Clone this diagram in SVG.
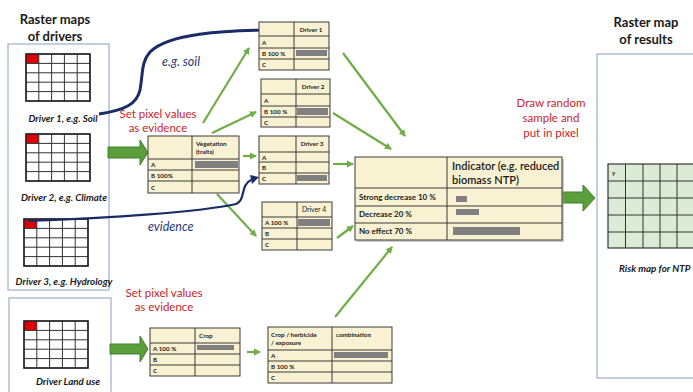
<svg xmlns="http://www.w3.org/2000/svg" width="693" height="392" viewBox="0 0 693 392">
<style>
.panel{fill:#fff;stroke:#9bb0cc;stroke-width:1.2}
.tb{fill:#f8f2d2;stroke:#3a3a3a;stroke-width:1}
.ln{stroke:#3a3a3a;stroke-width:1}
.bar{fill:#808080}
.rcell{fill:#e00000}
.gl{stroke:#333;stroke-width:1}
.t{font-family:Lato,"Liberation Sans",sans-serif;fill:#1a1a1a}
.tt{font-size:6.3px;font-weight:bold}
.title{font-size:13px;font-weight:bold;text-anchor:middle}
.dl{font-size:9.8px;font-weight:bold;font-style:italic;text-anchor:middle}
.red{font-family:Lato,"Liberation Sans",sans-serif;fill:#c8242c;font-size:11.5px;text-anchor:middle}
.blue{font-family:Lato,"Liberation Sans",sans-serif;fill:#1f3a78;font-size:12.5px;font-style:italic}
.gr{stroke:#70ad47;stroke-width:2.2;fill:none}
.nv{stroke:#1a2c66;stroke-width:3;fill:none}
.big{fill:#5b9e3c;stroke:#44802a;stroke-width:1}
</style>
<defs>
<marker id="ga" markerWidth="8" markerHeight="8" refX="6" refY="4" orient="auto" markerUnits="userSpaceOnUse">
<path d="M0,0.5 L7,4 L0,7.5 Z" fill="#70ad47"/>
</marker>
<g id="dgrid">
<rect x="0" y="0" width="64" height="47" fill="#fff" stroke="#333" stroke-width="1.2"/>
<rect x="0" y="0" width="12.8" height="9.4" class="rcell"/>
<path class="gl" d="M12.8 0V47M25.6 0V47M38.4 0V47M51.2 0V47M0 9.4H64M0 18.8H64M0 28.2H64M0 37.6H64"/>
<rect x="0" y="0" width="64" height="47" fill="none" stroke="#222" stroke-width="1.4"/>
</g>
</defs>

<rect width="693" height="392" fill="#fff"/>

<g id="left-panel">
<text class="t title" x="55" y="24">Raster maps</text>
<text class="t title" x="55" y="41">of drivers</text>
<rect class="panel" x="8" y="44" width="101" height="246"/>
<rect class="panel" x="9" y="298" width="102" height="100"/>
</g>

<g id="driver1">
<use href="#dgrid" x="26" y="54"/>
<text class="t dl" x="63" y="122">Driver 1, e.g. Soil</text>
</g>
<g id="driver2">
<use href="#dgrid" x="26" y="134"/>
<text class="t dl" x="64" y="201">Driver 2, e.g. Climate</text>
</g>
<g id="driver3">
<use href="#dgrid" x="24" y="219"/>
<text class="t dl" x="64" y="285">Driver 3, e.g. Hydrology</text>
</g>
<g id="driver-landuse">
<use href="#dgrid" x="24" y="321"/>
<text class="t dl" x="68" y="385">Driver Land use</text>
</g>

<g id="labels">
<text class="red" x="158" y="118">Set pixel values</text>
<text class="red" x="158" y="132">as evidence</text>
<text class="red" x="164" y="297">Set pixel values</text>
<text class="red" x="164" y="311">as evidence</text>
<text class="red" x="551" y="107">Draw random</text>
<text class="red" x="551" y="122">sample and</text>
<text class="red" x="551" y="137">put in pixel</text>
<text class="blue" x="162" y="66">e.g. soil</text>
<text class="blue" x="148" y="231">evidence</text>
</g>

<g id="connectors">
<polygon class="big" points="108,147 140,147 140,140 148,152.5 140,165 140,158 108,158"/>
<polygon class="big" points="110,344 140,344 140,336 148,349 140,362 140,354 110,354"/>
<polygon class="big" points="563,192 583,192 583,185 595,198 583,211 583,203 563,203"/>
<line class="gr" x1="203" y1="123" x2="249" y2="48" marker-end="url(#ga)"/>
<line class="gr" x1="212" y1="133" x2="256" y2="112" marker-end="url(#ga)"/>
<line class="gr" x1="243" y1="156" x2="256" y2="156" marker-end="url(#ga)"/>
<line class="gr" x1="217" y1="194" x2="256" y2="236" marker-end="url(#ga)"/>
<line class="gr" x1="343" y1="53" x2="405" y2="136" marker-end="url(#ga)"/>
<line class="gr" x1="333" y1="113" x2="391" y2="149" marker-end="url(#ga)"/>
<line class="gr" x1="333" y1="164" x2="353" y2="164" marker-end="url(#ga)"/>
<line class="gr" x1="337" y1="238" x2="353" y2="226" marker-end="url(#ga)"/>
<line class="gr" x1="335" y1="317" x2="392" y2="247" marker-end="url(#ga)"/>
<line class="gr" x1="247" y1="352" x2="260" y2="352" marker-end="url(#ga)"/>
<path class="nv" d="M99 114 C125 110 137 104 140 90 C143 74 141 62 150 52 C168 34 220 30 282 30"/>
<polygon points="280,24 294,30 280,36" fill="#1a2c66"/>
<path class="nv" style="stroke-width:2.2" d="M28 221 C110 218 200 212 236 204 C246 200 240 185 251 180"/>
<polygon points="250,175 259,177 252,184" fill="#1a2c66"/>
</g>

<g id="table-vegetation">
<rect class="tb" x="148" y="136" width="91" height="57"/>
<path class="ln" d="M192 136V193M148 159H239M148 170H239M148 181H239"/>
<rect class="bar" x="195" y="161" width="43" height="7"/>
<text class="t tt" x="196" y="146">Vegetation</text>
<text class="t tt" x="196" y="154">(traits)</text>
<text class="t tt" x="151" y="167">A</text>
<text class="t tt" x="151" y="178">B 100%</text>
<text class="t tt" x="151" y="190">C</text>
</g>

<g id="table-driver1">
<rect class="tb" x="259" y="22" width="70" height="48"/>
<path class="ln" d="M294 22V70M259 36H329M259 48H329M259 59H329"/>
<rect class="bar" x="296" y="50" width="31" height="6"/>
<text class="t tt" x="311" y="32" text-anchor="middle">Driver 1</text>
<text class="t tt" x="262" y="45">A</text>
<text class="t tt" x="262" y="56">B 100 %</text>
<text class="t tt" x="262" y="67">C</text>
</g>

<g id="table-driver2">
<rect class="tb" x="261" y="79" width="69" height="48"/>
<path class="ln" d="M296 79V127M261 94H330M261 106H330M261 117H330"/>
<rect class="bar" x="297" y="108" width="31" height="7"/>
<text class="t tt" x="313" y="89" text-anchor="middle">Driver 2</text>
<text class="t tt" x="264" y="103">A</text>
<text class="t tt" x="264" y="114">B 100 %</text>
<text class="t tt" x="264" y="125">C</text>
</g>

<g id="table-driver3">
<rect class="tb" x="259" y="136" width="70" height="48"/>
<path class="ln" d="M296 136V184M259 152H329M259 162H329M259 173H329"/>
<rect class="bar" x="297" y="175" width="30" height="6"/>
<text class="t tt" x="312" y="146" text-anchor="middle">Driver 3</text>
<text class="t tt" x="262" y="160">A</text>
<text class="t tt" x="262" y="170">B</text>
<text class="t tt" x="262" y="181">C</text>
</g>

<g id="table-driver4">
<rect class="tb" x="262" y="202" width="70" height="48"/>
<path class="ln" d="M297 202V250M262 217H332M262 228H332M262 239H332"/>
<rect class="bar" x="298" y="219" width="32" height="7"/>
<text class="t" style="font-size:6.8px" x="314" y="212" text-anchor="middle">Driver 4</text>
<text class="t tt" x="265" y="225">A 100 %</text>
<text class="t tt" x="265" y="236">B</text>
<text class="t tt" x="265" y="247">C</text>
</g>

<g id="table-crop">
<rect class="tb" x="150" y="328" width="90" height="48"/>
<path class="ln" d="M195 328V376M150 343H240M150 354H240M150 365H240"/>
<rect class="bar" x="197" y="345" width="37" height="5"/>
<text class="t tt" x="199" y="338">Crop</text>
<text class="t tt" x="153" y="351">A 100 %</text>
<text class="t tt" x="153" y="362">B</text>
<text class="t tt" x="153" y="373">C</text>
</g>

<g id="table-combination">
<rect class="tb" x="268" y="327" width="124" height="56"/>
<path class="ln" d="M332 327V383M268 350H392M268 361H392M268 372H392"/>
<rect class="bar" x="334" y="352" width="54" height="6"/>
<text class="t tt" x="271" y="337">Crop / herbicide</text>
<text class="t tt" x="271" y="345">/ exposure</text>
<text class="t tt" x="336" y="337">combination</text>
<text class="t tt" x="271" y="358">A</text>
<text class="t tt" x="271" y="369">B 100 %</text>
<text class="t tt" x="271" y="380">C</text>
</g>

<g id="table-indicator">
<rect x="357" y="159" width="207" height="83" fill="#999" opacity="0.5"/>
<rect class="tb" x="355" y="157" width="207" height="83"/>
<path class="ln" d="M447 157V240M355 188H562M355 206H562M355 223H562"/>
<rect class="bar" x="456" y="196" width="11" height="6"/>
<rect class="bar" x="456" y="209" width="23" height="6"/>
<rect class="bar" x="453" y="227" width="67" height="8"/>
<text class="t" style="font-size:11px;font-weight:600" x="452" y="170">Indicator (e.g. reduced</text>
<text class="t" style="font-size:11px;font-weight:600" x="452" y="184">biomass NTP)</text>
<text class="t" style="font-size:8px;font-weight:bold" x="359" y="200">Strong decrease 10 %</text>
<text class="t" style="font-size:8px;font-weight:bold" x="359" y="217">Decrease 20 %</text>
<text class="t" style="font-size:8px;font-weight:bold" x="359" y="234">No effect 70 %</text>
</g>

<g id="right-panel">
<text class="t title" x="646" y="27">Raster map</text>
<text class="t title" x="646" y="44">of results</text>
<rect class="panel" x="597" y="54" width="110" height="324"/>
<rect x="608" y="164" width="100" height="84" fill="#dcebd6" stroke="#333" stroke-width="1.2"/>
<path class="gl" d="M625.5 164V248M643 164V248M660 164V248M677 164V248M694 164V248M608 181H708M608 198H708M608 215H708M608 232H708"/>
<text class="t tt" x="612" y="175">y</text>
<text class="t dl" style="text-anchor:start" x="619" y="272">Risk map for NTP</text>
</g>
</svg>
